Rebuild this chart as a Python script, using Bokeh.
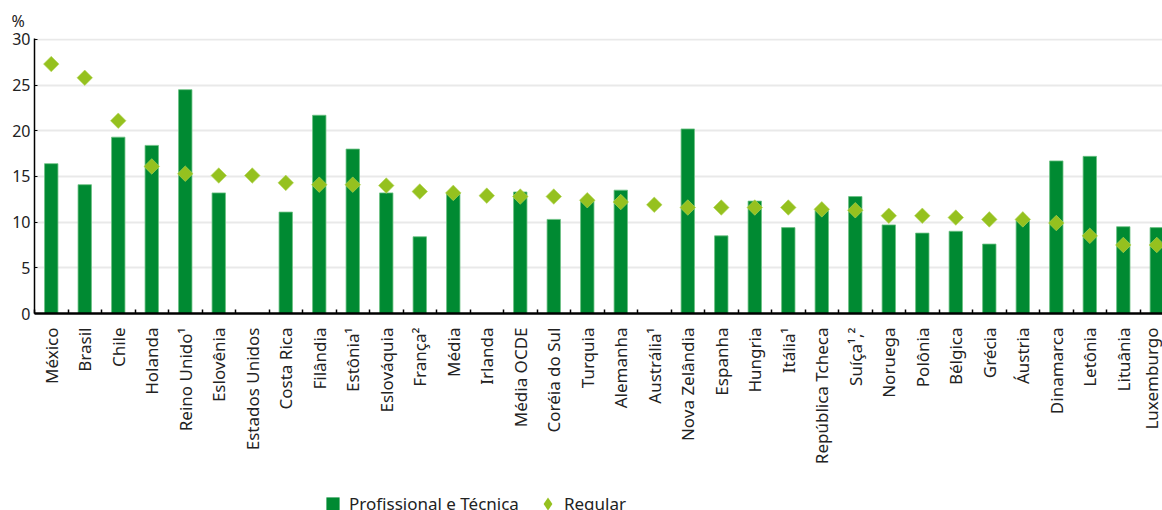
import numpy as np
from bokeh.plotting import figure
from bokeh.layouts import column
from bokeh.models import (Range1d, FixedTicker, Legend, LegendItem, Title,
                          ColumnDataSource)
from bokeh.embed import file_html
from bokeh.resources import INLINE

# Share of students, %, by country
paises = [
    "México", "Brasil", "Chile", "Holanda", "Reino Unido¹", "Eslovênia",
    "Estados Unidos", "Costa Rica", "Filândia", "Estônia¹", "Eslováquia",
    "França²", "Média", "Irlanda", "Média OCDE", "Coréia do Sul", "Turquia",
    "Alemanha", "Austrália¹", "Nova Zelândia", "Espanha", "Hungria",
    "Itália¹", "República Tcheca", "Suíça¹,²", "Noruega", "Polônia",
    "Bélgica", "Grécia", "Áustria", "Dinamarca", "Letônia", "Lituânia",
    "Luxemburgo",
]
profissional = [
    16.4, 14.1, 19.3, 18.4, 24.5, 13.2, np.nan, 11.1, 21.7, 18.0, 13.2,
    8.4, 13.2, np.nan, 13.3, 10.3, 12.4, 13.5, np.nan, 20.2, 8.5, 12.3,
    9.4, 11.3, 12.8, 9.7, 8.8, 9.0, 7.6, 10.2, 16.7, 17.2, 9.5, 9.4,
]
regular = [
    27.3, 25.8, 21.1, 16.1, 15.3, 15.1, 15.1, 14.3, 14.1, 14.1, 14.0,
    13.35, 13.2, 12.9, 12.8, 12.8, 12.4, 12.2, 11.9, 11.6, 11.6, 11.6,
    11.6, 11.4, 11.3, 10.7, 10.7, 10.5, 10.3, 10.3, 9.9, 8.5, 7.5, 7.5,
]
y_ticks = [0, 5, 10, 15, 20, 25, 30]

VERDE = "#008a32"
LIMA = "#95c11f"
TXT = "#222222"
FONT = "Noto Sans"

pos = np.arange(len(paises))
src = ColumnDataSource(dict(x=pos, prof=profissional, reg=regular))

p = figure(
    width=1162, height=487, output_backend="svg", toolbar_location=None,
    x_range=Range1d(-0.5, 33.17), y_range=Range1d(0, 30.1),
    min_border_left=34, min_border_right=0, min_border_top=37,
    min_border_bottom=174, outline_line_color=None,
)

p.vbar(x="x", top="prof", width=0.4, source=src,
       fill_color=VERDE, line_color="#6cc283", line_width=0.8)
p.scatter(x="x", y="reg", source=src, marker="square", angle=np.pi / 4,
          size=11, fill_color=LIMA, line_color="#b5d65a", line_width=0.6)

# axes
xa = p.xaxis[0]
xa.ticker = FixedTicker(ticks=list(pos), minor_ticks=list(pos[:-1] + 0.5) + [-0.5])
xa.major_label_overrides = {int(i): n for i, n in zip(pos, paises)}
xa.major_label_orientation = np.pi / 2
xa.major_tick_in = 0
xa.major_tick_out = 0
xa.minor_tick_in = 4
xa.minor_tick_out = 0
xa.minor_tick_line_color = "black"
xa.minor_tick_line_width = 1.5
xa.axis_line_color = "black"
xa.axis_line_width = 2.5
xa.major_label_standoff = 14
xa.major_label_text_font = FONT
xa.major_label_text_font_size = "17px"
xa.major_label_text_color = TXT

ya = p.yaxis[0]
ya.ticker = FixedTicker(ticks=y_ticks)
ya.major_tick_in = 3
ya.major_tick_out = 0
ya.minor_tick_line_color = None
ya.axis_line_color = "black"
ya.axis_line_width = 1.5
ya.major_label_standoff = 4
ya.major_label_text_font = FONT
ya.major_label_text_font_size = "16px"
ya.major_label_text_color = TXT

p.xgrid.grid_line_color = None
p.ygrid.ticker = FixedTicker(ticks=y_ticks)
p.ygrid.grid_line_color = "#e9e9e9"
p.ygrid.grid_line_width = 2

# unit marker above the y axis
p.add_layout(Title(text="%", align="left", offset=-23, standoff=14,
                   text_font=FONT, text_font_size="16px", text_color=TXT,
                   text_font_style="normal"), "above")

# legend strip underneath the chart
leg = figure(
    width=1162, height=23, output_backend="svg", toolbar_location=None,
    x_range=Range1d(0, 1), y_range=Range1d(0, 1),
    x_axis_location=None, y_axis_location=None,
    min_border=0, outline_line_color=None,
)
leg.grid.visible = False
sw_bar = leg.scatter(x=[2], y=[2], marker="square", fill_color=VERDE, line_color=None)
sw_pt = leg.scatter(x=[2], y=[2], marker="diamond", fill_color=LIMA, line_color=None)

legend = Legend(
    items=[LegendItem(label="Profissional e Técnica", renderers=[sw_bar]),
           LegendItem(label="Regular", renderers=[sw_pt])],
    location=(282, -10), orientation="horizontal",
    glyph_width=33, glyph_height=33, label_standoff=0, spacing=12,
    padding=0, margin=0, border_line_color=None, background_fill_alpha=0,
    label_text_font=FONT, label_text_font_size="17px", label_text_color=TXT,
)
leg.add_layout(legend, "center")

open("out.html", "w").write(file_html(column(p, leg), INLINE))
